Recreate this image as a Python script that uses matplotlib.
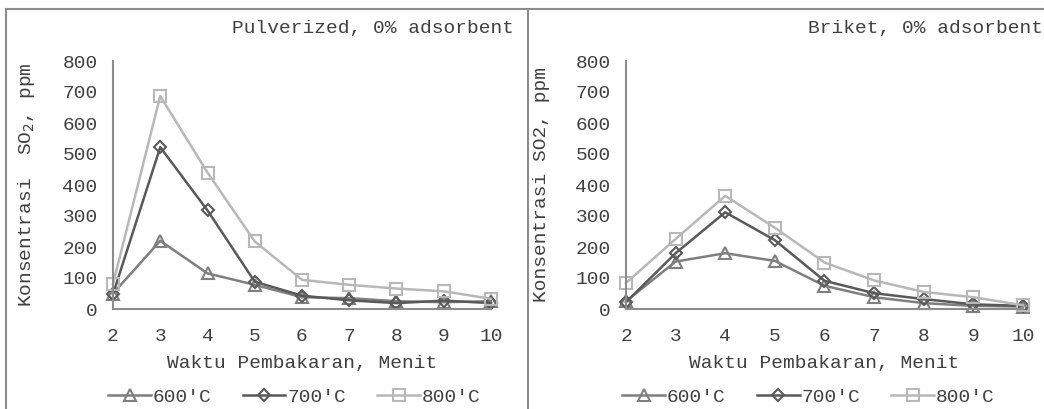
import numpy as np
import matplotlib.pyplot as plt
from matplotlib.lines import Line2D

plt.rcParams['font.family'] = ['Liberation Mono', 'DejaVu Sans Mono']

# Waktu pembakaran (menit)
menit = [2, 3, 4, 5, 6, 7, 8, 9, 10]
labels = ["600'C", "700'C", "800'C"]

# Pulverized, 0% adsorbent
pulv_600 = [50, 220, 115, 78, 38, 35, 25, 22, 25]
pulv_700 = [48, 522, 318, 88, 43, 28, 19, 27, 19]
pulv_800 = [81, 687, 440, 218, 94, 78, 66, 57, 33]

# Briket, 0% adsorbent
brik_600 = [25, 153, 180, 155, 75, 38, 19, 10, 8]
brik_700 = [22, 180, 312, 222, 91, 51, 32, 15, 10]
brik_800 = [84, 226, 365, 262, 150, 92, 55, 38, 12]

colors = ['#7f7f7f', '#595959', '#b8b8b8']
markers = ['^', 'D', 's']
msizes = [8, 6.5, 9]
txt = '#404040'
fs = 14
W, H = 1044, 409


def panel(rect, series, title, ylabel, title_x, leg_x):
    ax = fig.add_axes(rect)
    for y, c, m, ms, lab in zip(series, colors, markers, msizes, labels):
        ax.plot(menit, y, color=c, lw=1.8, marker=m, ms=ms, mfc='none',
                mec=c, mew=1.5, label=lab, clip_on=False)
    ax.set_xlim(2, 10)
    ax.set_ylim(0, 800)
    ax.set_xticks(menit)
    ax.set_yticks(range(0, 801, 100))
    for s in ['top', 'right']:
        ax.spines[s].set_visible(False)
    for s in ['left', 'bottom']:
        ax.spines[s].set_color('#8c8c8c')
        ax.spines[s].set_linewidth(1.5)
    ax.tick_params(length=0, labelsize=fs, colors=txt)
    ax.tick_params(axis='y', pad=11)
    ax.tick_params(axis='x', pad=14)
    ax.set_xlabel('Waktu Pembakaran, Menit', fontsize=fs, color=txt, labelpad=7)
    ax.set_ylabel(ylabel, fontsize=fs, color=txt, labelpad=18)
    fig.text(title_x, 1 - 28 / H, title, ha='right', va='center',
             fontsize=fs, color=txt)
    ax.legend(loc='upper center', bbox_to_anchor=(leg_x, -0.25), ncol=3,
              frameon=False, fontsize=fs, handlelength=2.2,
              handletextpad=0.1, columnspacing=1.6, labelcolor=txt)
    return ax


fig = plt.figure(figsize=(W / 100, H / 100), dpi=100)

bottom = 1 - 309 / H
height = (309 - 61) / H
panel([113 / W, bottom, (491 - 113) / W, height],
      [pulv_600, pulv_700, pulv_800], 'Pulverized, 0% adsorbent',
      'Konsentrasi  SO$_2$, ppm', 514 / W, 0.48)
panel([626 / W, bottom, (1023 - 626) / W, height],
      [brik_600, brik_700, brik_800], 'Briket, 0% adsorbent',
      'Konsentrasi SO2, ppm', 1043 / W, 0.46)

# panel borders
bc = '#8c8c8c'
fig.add_artist(Line2D([6 / W, 1], [1 - 9 / H, 1 - 9 / H], color=bc, lw=1.5))
fig.add_artist(Line2D([6 / W, 6 / W], [0, 1 - 9 / H], color=bc, lw=1.5))
fig.add_artist(Line2D([528 / W, 528 / W], [0, 1 - 9 / H], color=bc, lw=1.5))

fig.savefig('out.png', dpi=100)
